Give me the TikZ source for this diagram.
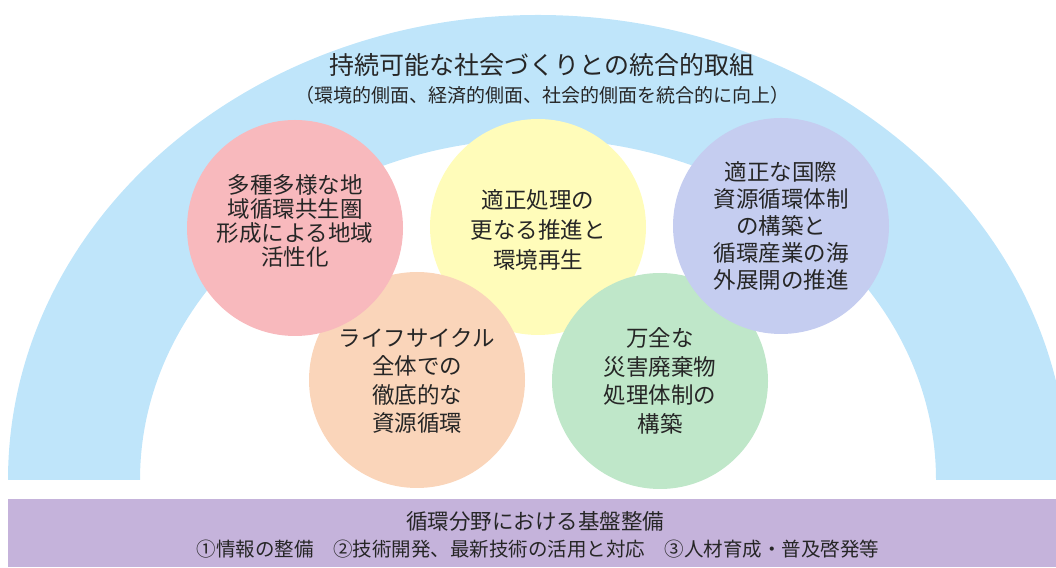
\documentclass[tikz,border=0pt]{standalone}
\usepackage{fontspec}
\setmainfont{Noto Sans CJK JP}
\definecolor{archblue}{HTML}{BFE5FA}
\definecolor{barc}{HTML}{C5B3DB}
\definecolor{pinkc}{HTML}{F8B9BD}
\definecolor{yellowc}{HTML}{FFFCBA}
\definecolor{lilacc}{HTML}{C5CDF0}
\definecolor{peachc}{HTML}{FAD5BA}
\definecolor{greenc}{HTML}{BFE7C9}
\definecolor{textc}{HTML}{262626}
\tikzset{
  bubble/.style={circle, draw=none, inner sep=0pt, minimum size=216pt},
  btext/.style={align=center, text=textc, inner sep=0pt, font=\fontsize{22.5pt}{#1}\selectfont},
  btext/.default=28pt
}
\begin{document}
\begin{tikzpicture}[x=1pt,y=1pt]
\useasboundingbox (0,0) rectangle (1056,567);
\begin{scope}
\clip (0,0) rectangle (1056,567);
\fill[archblue] (8,87) arc[start angle=180,end angle=0,x radius=530,y radius=465]
  -- (936,87) arc[start angle=0,end angle=180,x radius=398,y radius=341] -- cycle;
\end{scope}
\node[anchor=south west, fill=barc, inner sep=0pt, minimum width=1048pt, minimum height=68pt] (bar) at (8,0) {};

\node[bubble, fill=yellowc] (yellow) at (538,340) {};
\node[bubble, fill=peachc] (peach) at (417,187) {};
\node[bubble, fill=greenc] (green) at (660,186) {};
\node[bubble, fill=pinkc] (pink) at (295,339) {};
\node[bubble, fill=lilacc] (lilac) at (781,341) {};

\node[btext=24pt] (pinkt) at (295,346) {多種多様な地\\域循環共生圏\\形成による地域\\活性化};
\node[btext=30pt] (yellowt) at (538,337) {適正処理の\\更なる推進と\\環境再生};
\node[btext=27pt] (lilact) at (781,341) {適正な国際\\資源循環体制\\の構築と\\循環産業の海\\外展開の推進};
\node[btext=28.5pt] (peacht) at (417,186) {ライフサイクル\\全体での\\徹底的な\\資源循環};
\node[btext=28.5pt] (greent) at (660,186) {万全な\\災害廃棄物\\処理体制の\\構築};

\node[text=textc, inner sep=0pt, font=\fontsize{25pt}{29pt}\selectfont] (title) at (542,502) {持続可能な社会づくりとの統合的取組};
\node[text=textc, inner sep=0pt, font=\fontsize{19pt}{22pt}\selectfont] (sub) at (542,472) {（環境的側面、経済的側面、社会的側面を統合的に向上）};

\node[text=textc, inner sep=0pt, font=\fontsize{21.5pt}{25pt}\selectfont] (bar1) at (535,46) {循環分野における基盤整備};
\node[text=textc, inner sep=0pt, font=\fontsize{19.5pt}{23pt}\selectfont] (bar2) at (538,18) {①情報の整備\hspace{1em}②技術開発、最新技術の活用と対応\hspace{1em}③人材育成・普及啓発等};
\end{tikzpicture}
\end{document}
